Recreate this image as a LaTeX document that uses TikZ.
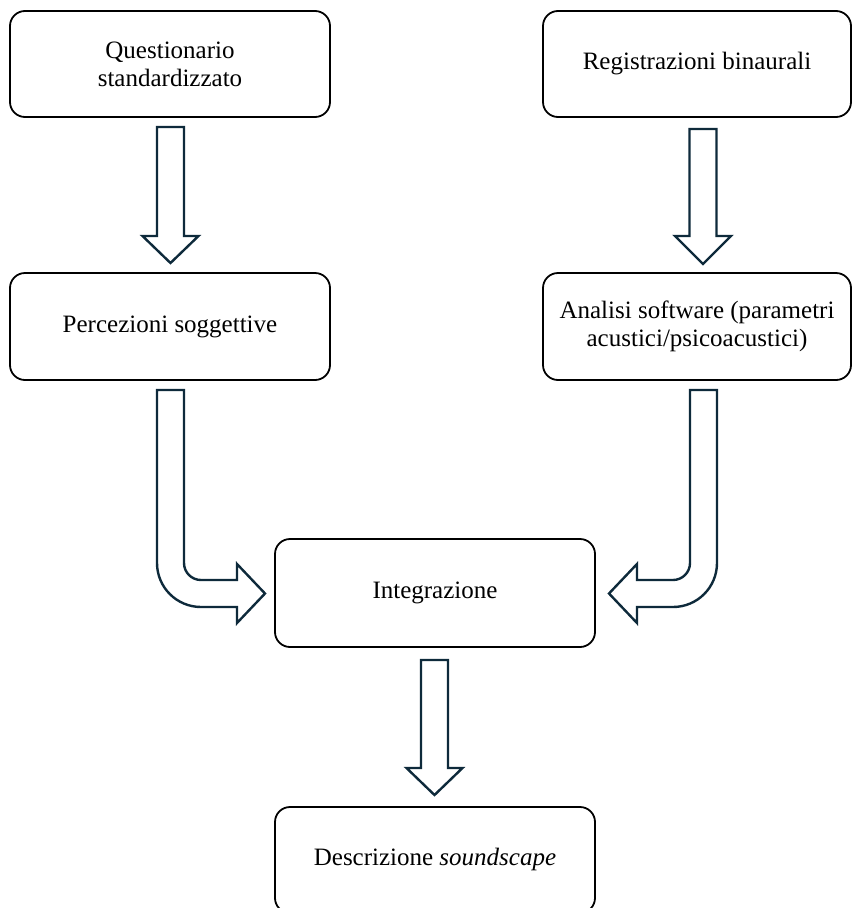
\documentclass[tikz,border=0pt]{standalone}
\usepackage{fontspec}
\setmainfont{Liberation Serif}
\definecolor{arrowc}{HTML}{0E2A3B}
\newcommand\blockdown[4]{% x, top, head base, tip
  \draw[blk] (#1-13.5,#2) -- (#1+13.5,#2) -- (#1+13.5,#3) -- (#1+28,#3) -- (#1,#4) -- (#1-28,#3) -- (#1-13.5,#3) -- cycle;}
\begin{document}
\begin{tikzpicture}[x=1pt,y=-1pt,
  box/.style={draw=black, line width=1.8pt, rounded corners=15pt, fill=white, align=center,
    font=\fontsize{25}{28}\selectfont, inner sep=0pt, minimum height=106pt},
  blk/.style={draw=arrowc, line width=2.4pt, fill=white, line join=miter}]
\useasboundingbox (0,0) rectangle (853,908);
\clip (0,0) rectangle (853,908);
\node[box, minimum width=320pt] (q) at (170,64) {Questionario\\standardizzato};
\node[box, minimum width=308pt] (r) at (697,64) {Registrazioni binaurali};
\node[box, minimum width=320pt, minimum height=107pt] (p) at (170,326.5) {Percezioni soggettive};
\node[box, minimum width=308pt, minimum height=107pt] (a) at (697,326.5) {Analisi software (parametri\\acustici/psicoacustici)};
\node[box, minimum width=320pt, minimum height=108pt] (i) at (435,593) {Integrazione};
\node[box, minimum width=320pt, minimum height=106pt, text depth=0pt] (d) at (435,860) {\raisebox{6pt}{Descrizione \textit{soundscape}}};
% straight block arrows
\blockdown{170.5}{127}{236}{263}
\blockdown{703}{129}{236}{264}
\blockdown{434.5}{660}{768}{795}
% bent block arrows
\draw[blk] (157,390) -- (184,390) -- (184,563) .. controls (184,572.4) and (191.6,580) .. (201,580)
  -- (237,580) -- (237,564) -- (265,593.5) -- (237,623) -- (237,607) -- (201,607)
  .. controls (176.7,607) and (157,587.3) .. (157,563) -- cycle;
\draw[blk] (717,390) -- (690,390) -- (690,563) .. controls (690,572.4) and (682.4,580) .. (673,580)
  -- (637,580) -- (637,564) -- (609,593.5) -- (637,623) -- (637,607) -- (673,607)
  .. controls (697.3,607) and (717,587.3) .. (717,563) -- cycle;
\end{tikzpicture}
\end{document}
